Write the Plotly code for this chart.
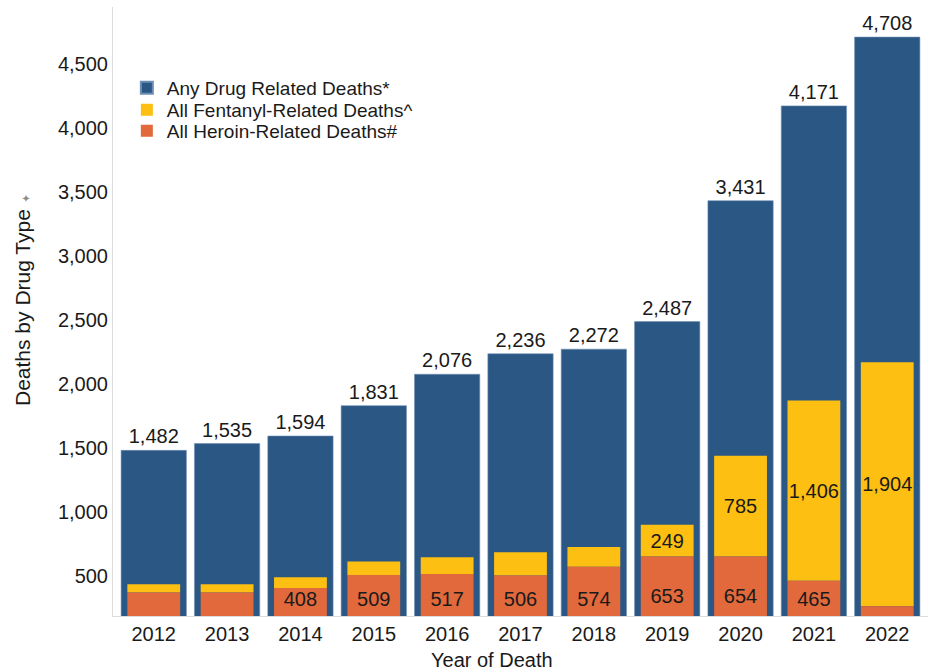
import plotly.graph_objects as go

years = ["2012", "2013", "2014", "2015", "2016", "2017", "2018", "2019", "2020", "2021", "2022"]
any_drug = [1482, 1535, 1594, 1831, 2076, 2236, 2272, 2487, 3431, 4171, 4708]
fentanyl = [63, 63, 84, 105, 131, 180, 154, 249, 785, 1406, 1904]
heroin = [373, 373, 408, 509, 517, 506, 574, 653, 654, 465, 265]
fent_labeled = [False, False, False, False, False, False, False, True, True, True, True]
heroin_labeled = [False, False, True, True, True, True, True, True, True, True, False]

BLUE = "#2a5784"
YELLOW = "#fdbf11"
ORANGE = "#e1693c"
FONT = "Liberation Sans, Arial, sans-serif"
TXT = "#1a1a1a"

fig = go.Figure()

fig.add_trace(go.Bar(
    x=years, y=any_drug, name="Any Drug Related Deaths*",
    marker=dict(color=BLUE, line=dict(color="#6d8fb3", width=0.6)),
    width=0.89,
    text=[f"{v:,}" for v in any_drug], textposition="outside",
    textfont=dict(size=20, color=TXT, family=FONT),
    cliponaxis=False, hoverinfo="skip", legend="legend",
))
fig.add_trace(go.Bar(
    x=years, y=fentanyl, base=heroin, name="All Fentanyl-Related Deaths^",
    marker=dict(color=YELLOW, line=dict(width=0)),
    width=0.72,
    text=[f"{v:,}" if s else "" for v, s in zip(fentanyl, fent_labeled)],
    textposition="inside", insidetextanchor="middle", textangle=0,
    constraintext="none",
    textfont=dict(size=20, color=TXT, family=FONT),
    hoverinfo="skip", legend="legend2",
))
fig.add_trace(go.Bar(
    x=years, y=heroin, name="All Heroin-Related Deaths#",
    marker=dict(color=ORANGE, line=dict(width=0)),
    width=0.72,
    textposition="none",
    hoverinfo="skip", legend="legend3",
))
fig.add_trace(go.Scatter(
    x=years, y=[max(v / 2, 305) for v in heroin],
    mode="text",
    text=[f"{v:,}" if s else "" for v, s in zip(heroin, heroin_labeled)],
    textposition="middle center",
    textfont=dict(size=20, color=TXT, family=FONT),
    showlegend=False, hoverinfo="skip", cliponaxis=False,
))

PLOT_BOTTOM, PLOT_H = 616, 609


def legend_at(row_center_px):
    return dict(
        x=0.017, y=(PLOT_BOTTOM - row_center_px) / PLOT_H,
        xanchor="left", yanchor="middle",
        font=dict(size=19, family=FONT, color=TXT),
        bgcolor="rgba(0,0,0,0)", itemsizing="constant",
    )


fig.update_layout(
    width=932, height=672,
    margin=dict(l=113, r=4, t=7, b=56),
    barmode="overlay",
    plot_bgcolor="white", paper_bgcolor="white",
    font=dict(family=FONT, color=TXT, size=20),
    showlegend=True,
    legend=legend_at(88),
    legend2=legend_at(110),
    legend3=legend_at(131),
    xaxis=dict(
        type="category", showgrid=False, ticks="",
        showline=True, linecolor="#dcdcdc", linewidth=1,
        tickfont=dict(size=20, family=FONT, color=TXT),
    ),
    yaxis=dict(
        range=[189, 4943], showgrid=False, zeroline=False,
        tickvals=[500, 1000, 1500, 2000, 2500, 3000, 3500, 4000, 4500],
        tickformat=",", ticks="",
        showline=True, linecolor="#dcdcdc", linewidth=1,
        tickfont=dict(size=20, family=FONT, color=TXT),
    ),
    annotations=[
        dict(text="Year of Death", xref="paper", yref="paper",
             x=(492 - 113) / 815, y=(616 - 660) / 609,
             xanchor="center", yanchor="middle", showarrow=False,
             font=dict(size=20, family=FONT, color=TXT)),
        dict(text="Deaths by Drug Type <span style='font-size:11px;color:#8a8a8a'>✦</span>",
             xref="paper", yref="paper",
             x=(22 - 113) / 815, y=(616 - 300) / 609,
             xanchor="center", yanchor="middle", showarrow=False, textangle=-90,
             font=dict(size=21, family=FONT, color=TXT)),
    ],
)

fig.write_html("out.html", config={"displayModeBar": False},
               post_script="document.body.style.margin='0px';")
